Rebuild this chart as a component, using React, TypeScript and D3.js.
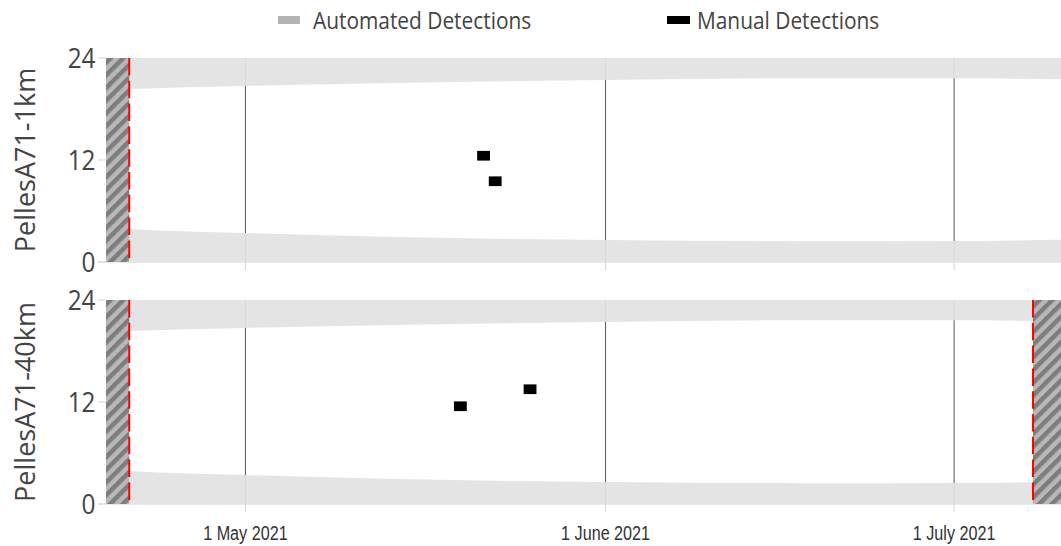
import React from "react";
import * as d3 from "d3";

// ---------- data ----------
const panels = ["PellesA71-1km", "PellesA71-40km"];
const yTicks = [0, 12, 24];
const xTickDates = ["2021-05-01", "2021-06-01", "2021-07-01"];
const xTickLabels = ["1 May 2021", "1 June 2021", "1 July 2021"];

// night shading (hours): evening edge and morning edge
const bandDates = ["2021-04-19", "2021-04-21", "2021-05-01", "2021-05-14", "2021-06-01", "2021-06-18", "2021-07-01", "2021-07-10T05:00"];
const duskHours = [20.25, 20.35, 20.7, 21.05, 21.4, 21.62, 21.62, 21.5];
const dawnHours = [4.05, 3.88, 3.41, 2.94, 2.59, 2.45, 2.47, 2.62];

// manual detections: day start and hour bin
const manualTopDates = ["2021-05-21", "2021-05-22"];
const manualTopHours = [12, 9];
const manualBottomDates = ["2021-05-19", "2021-05-25"];
const manualBottomHours = [11, 13];

// deployment effort limits
const deployStart = ["2021-04-21", "2021-04-21"];
const deployEnd = [null, "2021-07-07T19:00"];

const domainStart = "2021-04-19";
const domainEnd = "2021-07-10T04:48";

const legendLabels = ["Automated Detections", "Manual Detections"];
const legendColors = ["#b3b3b3", "#000000"];

// ---------- layout ----------
const W = 1061;
const H = 546;
const left = 106;
const right = 1061;
const panelTops = [58, 300];
const panelH = 204;
const SX = 0.87;
const FONT = "'Open Sans', sans-serif";
const FONT2 = "'Liberation Sans', Arial, sans-serif";

const parse = (s: string) => new Date(s.length > 10 ? s : s + "T00:00");

export default function App() {
  const x = d3.scaleTime().domain([parse(domainStart), parse(domainEnd)]).range([left, right]);
  const day = 24 * 3600 * 1000;

  const bandRows = bandDates.map((d, i) => ({ d: parse(d), dusk: duskHours[i], dawn: dawnHours[i] }));
  const manual = [
    manualTopDates.map((d, i) => ({ d: parse(d), h: manualTopHours[i] })),
    manualBottomDates.map((d, i) => ({ d: parse(d), h: manualBottomHours[i] })),
  ];

  const txt = (tx: number, ty: number, content: string, size: number, anchor: string, sx = SX, rotate = false, font = FONT, color = "#444") => (
    <text
      transform={`translate(${tx},${ty}) scale(${sx},1)${rotate ? " rotate(-90)" : ""}`}
      fontFamily={font}
      fontSize={size}
      textAnchor={anchor}
      fill={color}
    >
      {content}
    </text>
  );

  return (
    <svg width={W} height={H} style={{ position: "absolute", left: 0, top: 0, background: "#fff" }}>
      <defs>
        <pattern id="hatch" width="9" height="9" patternUnits="userSpaceOnUse" patternTransform="rotate(45)">
          <rect width="9" height="9" fill="#b8b8b8" />
          <rect width="4.5" height="9" fill="#7d7d7d" />
        </pattern>
        <clipPath id="plotclip">
          <rect x={left} y={0} width={right - left} height={H} />
        </clipPath>
      </defs>

      {/* legend */}
      <rect x={278} y={16} width={22} height={8} fill={legendColors[0]} />
      {txt(313, 29, legendLabels[0], 24, "start")}
      <rect x={667} y={16} width={23} height={8} fill={legendColors[1]} />
      {txt(697, 29, legendLabels[1], 24, "start")}

      {panels.map((name, p) => {
        const top = panelTops[p];
        const y = d3.scaleLinear().domain([0, 24]).range([top + panelH, top]);
        const duskArea = d3
          .area<any>()
          .x((r) => x(r.d))
          .y0((r) => y(r.dusk))
          .y1(() => y(24))
          .curve(d3.curveMonotoneX);
        const dawnArea = d3
          .area<any>()
          .x((r) => x(r.d))
          .y0(() => y(0))
          .y1((r) => y(r.dawn))
          .curve(d3.curveMonotoneX);
        const s = parse(deployStart[p]);
        const e = deployEnd[p] ? parse(deployEnd[p] as string) : null;
        return (
          <g key={name}>
            {/* grid lines and ticks */}
            {xTickDates.map((d) => (
              <g key={d}>
                <line x1={x(parse(d))} x2={x(parse(d))} y1={y(24)} y2={y(0)} stroke="#555" strokeWidth={1} />
                <line x1={x(parse(d))} x2={x(parse(d))} y1={y(0)} y2={y(0) + 8} stroke="#d6d6d6" strokeWidth={1} />
              </g>
            ))}
            <line x1={left - 8} x2={right} y1={y(0)} y2={y(0)} stroke="#d6d6d6" strokeWidth={1} />
            {yTicks.map((t) => (
              <line key={t} x1={left - 8} x2={left} y1={y(t)} y2={y(t)} stroke="#d6d6d6" strokeWidth={1} />
            ))}
            {/* night bands */}
            <g clipPath="url(#plotclip)">
              <path d={duskArea(bandRows) || ""} fill="#e2e2e2" opacity={0.92} />
              <path d={dawnArea(bandRows) || ""} fill="#e2e2e2" opacity={0.92} />
            </g>
            {/* manual detections */}
            {manual[p].map((m, i) => (
              <rect
                key={i}
                x={x(m.d)}
                y={y(m.h + 1)}
                width={x(new Date(+m.d + day)) - x(m.d)}
                height={y(m.h) - y(m.h + 1)}
                fill="#000"
                stroke="#000"
                strokeWidth={1.2}
              />
            ))}
            {/* effort limits */}
            <rect x={left} y={y(24)} width={x(s) - left} height={panelH} fill="url(#hatch)" />
            <line x1={x(s)} x2={x(s)} y1={y(24)} y2={y(0)} stroke="#ff0000" strokeWidth={2} strokeDasharray="17.5,5.3" />
            {e && (
              <g>
                <rect x={x(e)} y={y(24)} width={right - x(e)} height={panelH} fill="url(#hatch)" />
                <line x1={x(e)} x2={x(e)} y1={y(24)} y2={y(0)} stroke="#ff0000" strokeWidth={2} strokeDasharray="17.5,5.3" />
              </g>
            )}
            {/* y tick labels */}
            {yTicks.map((t) => (
              <g key={"l" + t}>{txt(95.5, y(t) + 10, String(t), 28, "end")}</g>
            ))}
            {/* y title */}
            {txt(35, top + panelH / 2, name, 27, "middle", 1, true)}
          </g>
        );
      })}

      {/* x tick labels */}
      {xTickDates.map((d, i) => (
        <g key={d}>{txt(x(parse(d)), 540, xTickLabels[i], 21, "middle", 0.77, false, FONT2, "#333")}</g>
      ))}
    </svg>
  );
}
